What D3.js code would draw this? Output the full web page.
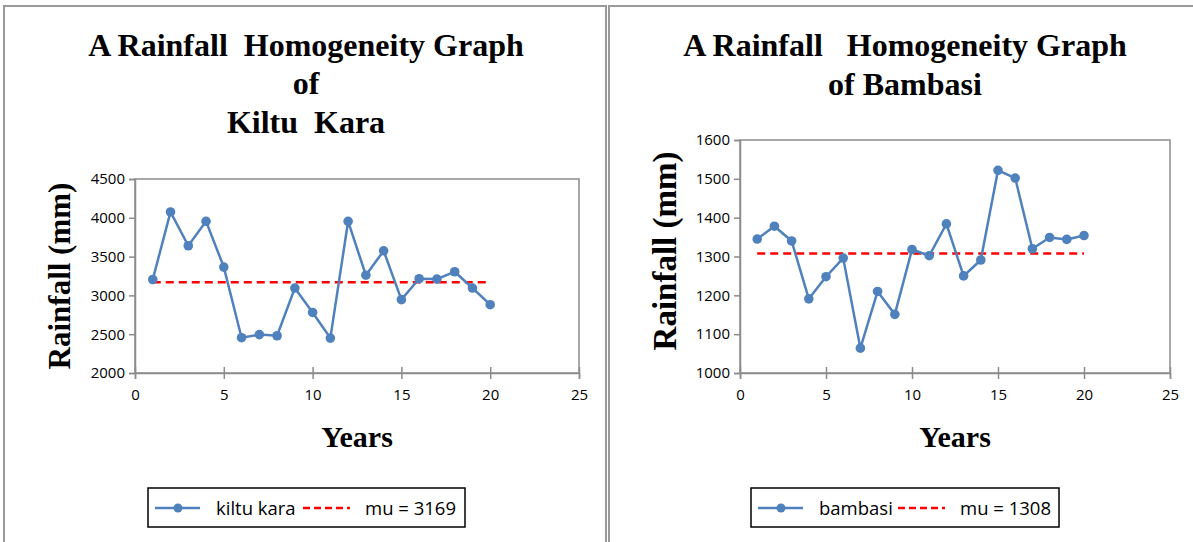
<!DOCTYPE html>
<html>
<head>
<meta charset="utf-8">
<script src="https://cdn.jsdelivr.net/npm/d3@7"></script>
<style>
  body { margin: 0; background: #fff; }
  svg { display: block; }
  .ttl { font-family: "Liberation Serif", "Times New Roman", serif; font-weight: bold; white-space: pre; }
  .tick text { font-family: "Open Sans", sans-serif; font-size: 15px; fill: #000; }
  .leg { font-family: "Open Sans", sans-serif; font-size: 18.5px; fill: #000; }
</style>
</head>
<body>
<svg width="1193" height="542"></svg>
<script>
var years = d3.range(1, 21);

var kiltuKara = [3205, 4075, 3640, 3955, 3365, 2455, 2495, 2480, 3095, 2780,
                 2450, 3955, 3260, 3575, 2945, 3215, 3210, 3305, 3095, 2880];
var kiltuMu = 3169;
var kiltuTicks = [2000, 2500, 3000, 3500, 4000, 4500];

var bambasi = [1345, 1378, 1340, 1191, 1248, 1296, 1064, 1210, 1151, 1318,
               1302, 1384, 1250, 1291, 1522, 1502, 1320, 1349, 1344, 1354];
var bambasiMu = 1308;
var bambasiTicks = [1000, 1100, 1200, 1300, 1400, 1500, 1600];

var xTicks = [0, 5, 10, 15, 20, 25];

var svg = d3.select("svg");

var blue = "#4f81bd";

function panel(o) {
  // panel frame
  svg.append("rect")
    .attr("x", o.px).attr("y", 6)
    .attr("width", o.pw).attr("height", 560)
    .attr("fill", "none").attr("stroke", "#9a9a9a").attr("stroke-width", 2);

  // title
  o.title.forEach(function(t, i) {
    svg.append("text").attr("class", "ttl")
      .attr("x", o.tx).attr("y", o.ty[i])
      .attr("text-anchor", "middle")
      .style("font-size", "32px")
      .text(t);
  });

  var x = d3.scaleLinear().domain([0, 25]).range([o.x0, o.x1]);
  var y = d3.scaleLinear().domain(o.ydom).range([373, o.y0]);

  var g = svg.append("g");

  // plot area border
  g.append("rect")
    .attr("x", o.x0).attr("y", o.y0)
    .attr("width", o.x1 - o.x0).attr("height", 373 - o.y0)
    .attr("fill", "none").attr("stroke", "#8c8c8c").attr("stroke-width", 1.5);

  var xa = g.append("g")
    .attr("transform", "translate(0,373)")
    .call(d3.axisBottom(x).tickValues(xTicks).tickFormat(d3.format("d")).tickSize(6).tickPadding(10));
  var ya = g.append("g")
    .attr("transform", "translate(" + o.x0 + ",0)")
    .call(d3.axisLeft(y).tickValues(o.ticks).tickFormat(d3.format("d")).tickSize(6).tickPadding(4));
  [xa, ya].forEach(function(a) {
    a.select(".domain").attr("stroke", "#8c8c8c").attr("stroke-width", 1.5);
    a.selectAll(".tick line").attr("stroke", "#8c8c8c").attr("stroke-width", 1.5);
  });
  xa.selectAll(".tick line").attr("y1", -6).attr("y2", 6);

  // axis titles
  svg.append("text").attr("class", "ttl")
    .attr("transform", "translate(" + o.ylx + "," + o.yly + ") rotate(-90)")
    .attr("text-anchor", "middle")
    .style("font-size", o.yls + "px")
    .text("Rainfall (mm)");
  svg.append("text").attr("class", "ttl")
    .attr("x", o.xlx).attr("y", 447)
    .attr("text-anchor", "middle")
    .style("font-size", "30px")
    .text("Years");

  // mean line
  g.append("line")
    .attr("x1", x(1)).attr("x2", x(20))
    .attr("y1", y(o.mu)).attr("y2", y(o.mu))
    .attr("stroke", "#ff0000").attr("stroke-width", 2.5)
    .attr("stroke-dasharray", "8,5");

  // series
  g.append("path")
    .datum(o.vals)
    .attr("fill", "none")
    .attr("stroke", blue)
    .attr("stroke-width", 2.5)
    .attr("d", d3.line()
      .x(function(d, i) { return x(years[i]); })
      .y(function(d) { return y(d); }));
  g.selectAll(".pt").data(o.vals).enter().append("circle")
    .attr("cx", function(d, i) { return x(years[i]); })
    .attr("cy", function(d) { return y(d); })
    .attr("r", 4.8)
    .attr("fill", blue);

  // legend
  var lg = svg.append("g").attr("transform", "translate(" + o.lx + ",488)");
  lg.append("rect").attr("width", o.lw).attr("height", 39)
    .attr("fill", "#fff").attr("stroke", "#000").attr("stroke-width", 1.5);
  lg.append("line").attr("x1", 7).attr("x2", 52).attr("y1", 20).attr("y2", 20)
    .attr("stroke", blue).attr("stroke-width", 2.5);
  lg.append("circle").attr("cx", 30).attr("cy", 20).attr("r", 4.5).attr("fill", blue);
  lg.append("text").attr("class", "leg").attr("x", o.lt1).attr("y", 27).text(o.name);
  lg.append("line").attr("x1", o.ld).attr("x2", o.ld + 47).attr("y1", 20).attr("y2", 20)
    .attr("stroke", "#ff0000").attr("stroke-width", 2.5).attr("stroke-dasharray", "7,4");
  lg.append("text").attr("class", "leg").attr("x", o.lt2).attr("y", 27)
    .text("mu = " + o.mu);
}

panel({
  px: 4, pw: 602,
  title: ["A Rainfall  Homogeneity Graph", "of", "Kiltu  Kara"],
  tx: 306, ty: [56, 94, 133],
  x0: 135, x1: 579, y0: 179,
  ydom: [2000, 4500], ticks: kiltuTicks,
  vals: kiltuKara, mu: kiltuMu, name: "kiltu kara",
  ylx: 70, yly: 276, yls: 31, xlx: 357,
  lx: 148, lw: 317, lt1: 68, ld: 155, lt2: 217
});

panel({
  px: 609, pw: 600,
  title: ["A Rainfall   Homogeneity Graph", "of Bambasi"],
  tx: 905, ty: [56, 95],
  x0: 740, x1: 1170, y0: 140,
  ydom: [1000, 1600], ticks: bambasiTicks,
  vals: bambasi, mu: bambasiMu, name: "bambasi",
  ylx: 676, yly: 251, yls: 33, xlx: 955,
  lx: 751, lw: 308, lt1: 68, ld: 147, lt2: 209
});
</script>
</body>
</html>
